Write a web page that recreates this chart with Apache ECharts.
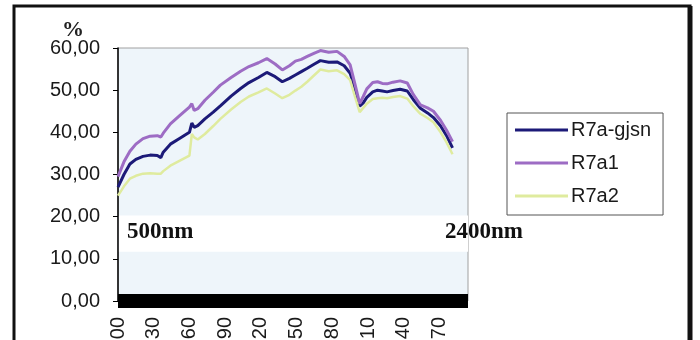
<!DOCTYPE html>
<html>
<head>
<meta charset="utf-8">
<script src="https://cdn.jsdelivr.net/npm/echarts@6/dist/echarts.min.js"></script>
<style>
  html, body { margin: 0; padding: 0; background: #fff; }
  #container { width: 700px; height: 340px; }
</style>
</head>
<body>
<div id="container"></div>
<script>
var dom = document.getElementById('container');
var myChart = echarts.init(dom, null, { renderer: 'canvas' });

// band positions (x)
var bands = [100, 105, 110, 115, 121, 127, 133, 136, 138, 144, 152, 160, 162, 164, 167, 173, 180, 186,
    195, 203, 210, 218, 225, 232, 238, 244, 249, 254, 259, 265, 270, 277, 284, 290, 295, 299, 303,
    306, 309, 314, 318, 322, 326, 331, 337, 343, 348, 354, 360, 365, 371, 376, 381];

var valsGjsn = [27.0, 30.0, 32.5, 33.6, 34.3, 34.6, 34.5, 34.0, 35.3, 37.2, 38.6, 40.0, 42.2, 41.2, 41.6, 43.2, 44.8, 46.3,
    48.6, 50.4, 51.8, 53.0, 54.2, 53.2, 52.0, 52.8, 53.6, 54.4, 55.2, 56.2, 57.0, 56.6, 56.7, 55.8, 54.0, 50.5, 46.2,
    47.0, 48.3, 49.6, 50.0, 49.8, 49.6, 49.9, 50.2, 49.8, 47.8, 45.7, 44.6, 43.5, 41.5, 39.2, 36.3];

var valsA1 = [29.5, 33.0, 35.5, 37.2, 38.5, 39.1, 39.2, 38.9, 39.8, 42.0, 44.0, 46.0, 46.8, 45.2, 45.6, 47.6, 49.5, 51.2,
    53.0, 54.5, 55.6, 56.5, 57.5, 56.2, 54.8, 55.8, 56.9, 57.3, 58.0, 58.8, 59.4, 59.0, 59.2, 58.0, 56.0, 51.5, 46.8,
    48.5, 50.3, 51.8, 52.0, 51.6, 51.5, 51.9, 52.2, 51.7, 49.0, 46.5, 45.8, 45.0, 42.8, 40.5, 37.8];

var valsA2 = [25.0, 27.2, 29.0, 29.7, 30.2, 30.3, 30.2, 30.2, 30.8, 32.1, 33.3, 34.5, 39.6, 38.8, 38.3, 39.6, 41.5, 43.2,
    45.4, 47.2, 48.5, 49.5, 50.4, 49.2, 48.1, 48.9, 49.9, 50.8, 52.0, 53.6, 54.9, 54.5, 54.7, 53.8, 52.4, 48.5, 44.8,
    45.8, 46.8, 47.9, 48.1, 48.2, 48.1, 48.4, 48.6, 48.0, 46.2, 44.4, 43.4, 42.4, 40.0, 37.6, 34.8];

var seriesNames = ['R7a-gjsn', 'R7a1', 'R7a2'];
var colors = ['#1c1a78', '#9d6cc4', '#dfeb9e'];
var xTicks = [100, 130, 160, 190, 220, 250, 280, 310, 340, 370];

function pairs(vals) {
    return bands.map(function (b, i) { return [b, vals[i]]; });
}

var font = '"Liberation Sans", Arial, sans-serif';
var serif = '"Liberation Serif", "Times New Roman", serif';
// flat line icon for the legend (invisible corners keep the box 53x20)
var lineIcon = 'path://M0,0L0,0M0,8.5L53,8.5L53,11.5L0,11.5ZM53,20L53,20';

var option = {
    backgroundColor: '#ffffff',
    animation: false,
    grid: {
        left: 118, right: 232, top: 48, bottom: 39,
        outerBoundsMode: 'none',
        containLabel: false,
        show: true,
        backgroundColor: '#eef5fa',
        borderColor: '#a0a0a0',
        borderWidth: 1
    },
    legend: {
        orient: 'vertical',
        left: 507, top: 113,
        padding: [7, 12, 9, 8],
        icon: lineIcon,
        itemWidth: 53, itemHeight: 20, itemGap: 13,
        borderColor: '#555', borderWidth: 1,
        backgroundColor: '#ffffff',
        textStyle: { fontFamily: font, fontSize: 20, lineHeight: 20, color: '#1a1a1a', padding: [0, 0, 0, -2] },
        data: seriesNames
    },
    xAxis: {
        type: 'value',
        min: 100, max: 394,
        axisLine: { show: true, onZero: false, lineStyle: { color: '#000', width: 14, cap: 'butt' } },
        axisTick: { show: false },
        splitLine: { show: false },
        axisLabel: {
            customValues: xTicks,
            rotate: 90,
            margin: 16,
            fontFamily: font, fontSize: 20, color: '#1a1a1a'
        }
    },
    yAxis: {
        type: 'value',
        min: 0, max: 60, interval: 10,
        axisLine: { show: true, lineStyle: { color: '#000', width: 1.5 } },
        axisTick: { show: true, length: 5, lineStyle: { color: '#000' } },
        splitLine: { show: false },
        axisLabel: {
            margin: 18,
            fontFamily: font, fontSize: 20, color: '#1a1a1a',
            formatter: function (v) { return v.toFixed(2).replace('.', ','); }
        }
    },
    series: [
        {
            name: seriesNames[0], type: 'line', data: pairs(valsGjsn),
            symbol: 'none', color: colors[0], lineStyle: { width: 3, color: colors[0] },
            markArea: {
                silent: true,
                itemStyle: { color: '#ffffff', opacity: 1 },
                data: [[{ xAxis: 100.8, yAxis: 11.7 }, { xAxis: 394, yAxis: 20.3 }]]
            }
        },
        {
            name: seriesNames[1], type: 'line', data: pairs(valsA1),
            symbol: 'none', color: colors[1], lineStyle: { width: 3, color: colors[1] }
        },
        {
            name: seriesNames[2], type: 'line', data: pairs(valsA2),
            symbol: 'none', color: colors[2], lineStyle: { width: 2.5, color: colors[2] }
        }
    ],
    graphic: [
        {
            type: 'rect', silent: true, z: 100,
            shape: { x: 14, y: 6, width: 676, height: 346 },
            style: { fill: null, stroke: '#111', lineWidth: 3 }
        },
        {
            type: 'line', silent: true, z: 100,
            shape: { x1: 690, y1: 6, x2: 690, y2: 340 },
            style: { stroke: '#111', lineWidth: 5 }
        },
        {
            type: 'text', left: 62, top: 19, z: 100,
            style: { text: '%', font: 'bold 22px ' + serif, fill: '#222' }
        },
        {
            type: 'text', left: 127, top: 221, z: 100,
            style: { text: '500nm', font: 'bold 23px ' + serif, fill: '#111' }
        },
        {
            type: 'text', left: 445, top: 221, z: 100,
            style: { text: '2400nm', font: 'bold 23px ' + serif, fill: '#111' }
        }
    ]
};

myChart.setOption(option);
</script>
</body>
</html>
